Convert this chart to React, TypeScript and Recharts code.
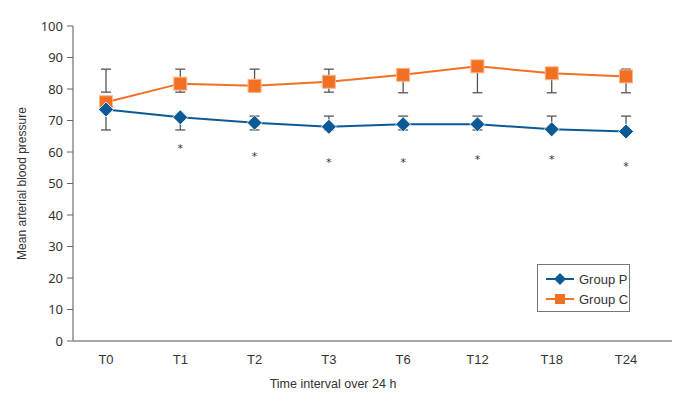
import {
  ComposedChart,
  Line,
  XAxis,
  YAxis,
  ErrorBar,
} from "recharts";

const categories = ["T0", "T1", "T2", "T3", "T6", "T12", "T18", "T24"];
const groupP = [73.5, 71, 69.3, 68, 68.8, 68.8, 67.2, 66.5];
const groupC = [75.8, 81.7, 81, 82.3, 84.5, 87.2, 85, 84];
const lowP = [67, 67, 67, 67, 67, 67, 67, 67];
const highP = [73.5, 71.4, 71.4, 71.4, 71.4, 71.4, 71.4, 71.4];
const lowC = [79, 79, 79, 79, 78.8, 78.8, 78.8, 78.8];
const highC = [86.3, 86.3, 86.3, 86.3, 86.3, 86.3, 86.3, 86.3];
const stars = [null, 61.2, 58.8, 56.7, 56.7, 57.7, 57.7, 55.5];
const yTicks = [0, 10, 20, 30, 40, 50, 60, 70, 80, 90, 100];

const BLUE = "#0b5a96";
const ORANGE = "#f27022";
const NARROW = "'Liberation Sans Narrow', 'Liberation Sans', sans-serif";

const data = categories.map((t, i) => ({
  time: t,
  p: groupP[i],
  c: groupC[i],
  errP: [groupP[i] - lowP[i], highP[i] - groupP[i]],
  errC: [groupC[i] - lowC[i], highC[i] - groupC[i]],
  star: stars[i],
}));

const Diamond = (props: any) => {
  const { cx, cy } = props;
  if (cx == null || cy == null) return null;
  const r = 7.5;
  return (
    <path
      d={`M${cx},${cy - r}L${cx + r},${cy}L${cx},${cy + r}L${cx - r},${cy}Z`}
      fill={BLUE}
      stroke="#ffffff"
      strokeWidth={0.8}
    />
  );
};

const Square = (props: any) => {
  const { cx, cy } = props;
  if (cx == null || cy == null) return null;
  const h = 6.5;
  return (
    <rect
      x={cx - h}
      y={cy - h}
      width={h * 2}
      height={h * 2}
      fill={ORANGE}
      stroke="#f9b98f"
      strokeWidth={1}
    />
  );
};

const Star = (props: any) => {
  const { cx, cy, value } = props;
  if (cx == null || cy == null || value == null) return null;
  return (
    <text x={cx} y={cy + 4} textAnchor="middle" fontSize={11} fill="#333" fontFamily="DejaVu Sans">
      *
    </text>
  );
};

// x-axis title sits left of the plot centre in the original
const XTitle = (props: any) => {
  const { viewBox } = props;
  if (!viewBox) return null;
  return (
    <text
      x={333}
      y={viewBox.y + viewBox.height + 7}
      textAnchor="middle"
      fill="#333"
      fontSize={12.5}
      fontFamily={NARROW}
    >
      Time interval over 24 h
    </text>
  );
};

const LegendBox = () => (
  <div
    style={{
      position: "absolute",
      left: 537,
      top: 264,
      width: 93,
      height: 48,
      border: "1px solid #777",
      background: "#fff",
      fontFamily: NARROW,
      fontSize: 13,
      color: "#333",
      boxSizing: "border-box",
      padding: "4px 0 0 8px",
    }}
  >
    {[
      { name: "Group P", color: BLUE, shape: "d" },
      { name: "Group C", color: ORANGE, shape: "s" },
    ].map((it) => (
      <div key={it.name} style={{ display: "flex", alignItems: "center", height: 20 }}>
        <svg width={28} height={14} style={{ marginRight: 5 }}>
          <line x1={0} y1={7} x2={28} y2={7} stroke={it.color} strokeWidth={2} />
          {it.shape === "d" ? (
            <path d="M14,1L20,7L14,13L8,7Z" fill={it.color} />
          ) : (
            <rect x={9} y={2} width={10} height={10} fill={it.color} />
          )}
        </svg>
        <span>{it.name}</span>
      </div>
    ))}
  </div>
);

export default function App() {
  return (
    <div style={{ position: "absolute", left: 0, top: 0, width: 689, height: 403, background: "#fff" }}>
      <ComposedChart
        width={689}
        height={403}
        data={data}
        margin={{ top: 26, right: 17, bottom: 22, left: 0 }}
      >
        <XAxis
          dataKey="time"
          height={40}
          padding={{ left: 33, right: 46 }}
          tickLine={false}
          axisLine={{ stroke: "#8a8a8a", strokeWidth: 1.5 }}
          tick={{ fill: "#333", fontSize: 13, fontFamily: NARROW }}
          tickMargin={8}
          label={<XTitle />}
        />
        <YAxis
          width={73}
          domain={[0, 100]}
          ticks={yTicks}
          interval={0}
          tickSize={6}
          tickLine={{ stroke: "#666" }}
          axisLine={{ stroke: "#aaaaaa", strokeWidth: 2 }}
          tick={{ fill: "#333", fontSize: 13, fontFamily: "'Noto Sans', sans-serif" }}
          tickMargin={4}
          label={{
            value: "Mean arterial blood pressure",
            angle: -90,
            position: "insideLeft",
            offset: 22,
            style: { textAnchor: "middle" },
            fill: "#333",
            fontSize: 12,
            fontFamily: "'Liberation Sans', sans-serif",
          }}
        />
        <Line
          dataKey="c"
          name="Group C"
          stroke={ORANGE}
          strokeWidth={2}
          dot={<Square />}
          activeDot={false}
          isAnimationActive={false}
        >
          <ErrorBar dataKey="errC" direction="y" width={5} stroke="#555" strokeWidth={1.3} />
        </Line>
        <Line
          dataKey="p"
          name="Group P"
          stroke={BLUE}
          strokeWidth={2}
          dot={<Diamond />}
          activeDot={false}
          isAnimationActive={false}
        >
          <ErrorBar dataKey="errP" direction="y" width={5} stroke="#555" strokeWidth={1.3} />
        </Line>
        <Line
          dataKey="star"
          stroke="none"
          dot={<Star />}
          activeDot={false}
          legendType="none"
          isAnimationActive={false}
        />
      </ComposedChart>
      <LegendBox />
    </div>
  );
}
